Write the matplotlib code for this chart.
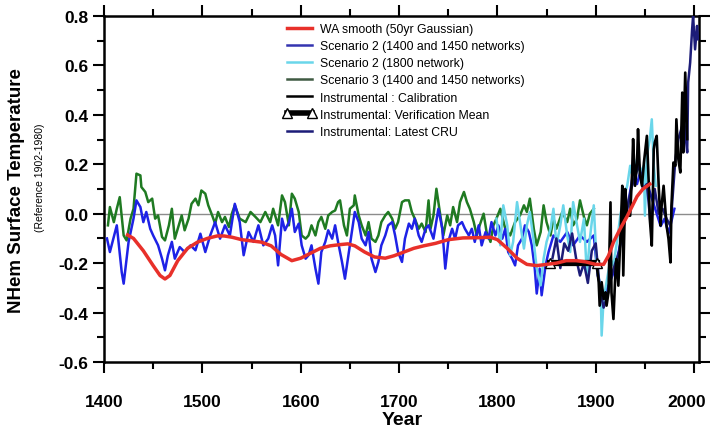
import numpy as np
import matplotlib.pyplot as plt
import matplotlib.transforms as mtransforms
from matplotlib.lines import Line2D
from matplotlib.ticker import MultipleLocator

plt.rcParams['font.family'] = ['Liberation Sans', 'DejaVu Sans']
plt.rcParams['axes.unicode_minus'] = False

# Scenario 2 (1400 and 1450 networks)
s2_years = [1403, 1406, 1413, 1418, 1420, 1425, 1430, 1433, 1437, 1440, 1443, 1447, 1450, 1455,
            1459, 1462, 1465, 1469, 1472, 1477, 1482, 1488, 1493, 1498, 1503, 1508, 1513, 1518,
            1523, 1528, 1533, 1538, 1542, 1547, 1552, 1557, 1562, 1567, 1571, 1574, 1577, 1581,
            1584, 1588, 1591, 1594, 1598, 1601, 1605, 1608, 1611, 1615, 1618, 1621, 1625, 1628,
            1632, 1635, 1638, 1642, 1645, 1649, 1652, 1655, 1659, 1662, 1666, 1669, 1672, 1676,
            1679, 1682, 1686, 1689, 1693, 1696, 1699, 1703, 1706, 1710, 1713, 1716, 1720, 1723,
            1727, 1730, 1735, 1740, 1744, 1747, 1750, 1754, 1757, 1760, 1764, 1767, 1771, 1774,
            1777, 1781, 1784, 1788, 1791, 1794, 1798, 1801, 1805, 1808, 1811, 1815, 1818, 1821,
            1825, 1828, 1832, 1835, 1838, 1840, 1843, 1845, 1849, 1852, 1857, 1864, 1871, 1877,
            1884, 1891, 1898, 1902, 1908, 1914, 1920, 1926, 1932, 1938, 1942, 1946, 1950, 1954,
            1958, 1962, 1966, 1970, 1974, 1980]
s2_vals = [-0.10, -0.155, -0.047, -0.236, -0.283, -0.114, -0.02, 0.054, 0.027, -0.034, 0.007, -0.061,
           -0.088, -0.128, -0.182, -0.229, -0.168, -0.114, -0.182, -0.135, -0.155, -0.128, -0.148,
           -0.081, -0.155, -0.088, -0.034, -0.101, -0.047, -0.088, 0.040, -0.034, -0.168, -0.074,
           -0.114, -0.047, -0.128, -0.101, -0.047, -0.088, -0.209, -0.02, -0.067, -0.034, 0.02,
           -0.074, -0.04, -0.128, -0.182, -0.168, -0.128, -0.222, -0.283, -0.155, -0.114, -0.067,
           -0.101, -0.047, -0.114, -0.195, -0.263, -0.155, -0.074, 0.007, -0.034, -0.101, -0.128,
           -0.074, -0.182, -0.236, -0.195, -0.128, -0.088, -0.047, -0.034, -0.088, -0.155, -0.195,
           -0.101, -0.04, -0.061, -0.02, -0.088, -0.114, -0.061, -0.047, -0.101, 0.02, -0.061,
           -0.222, -0.114, -0.061, -0.101, -0.047, -0.034, -0.061, -0.088, -0.061, -0.114, -0.047,
           -0.128, -0.074, -0.101, -0.034, -0.088, -0.047, -0.101, -0.061, -0.155, -0.182, -0.209,
           -0.128, -0.101, -0.047, -0.074, -0.128, -0.222, -0.323, -0.222, -0.33, -0.209, -0.155,
           -0.088, -0.114, -0.074, -0.128, -0.088, -0.114, -0.088, -0.25, -0.33, -0.28, -0.22,
           -0.10, 0.02, 0.16, 0.12, 0.18, 0.14, 0.10, 0.05, 0.0, -0.05, -0.02, -0.08, 0.02]

# Scenario 3 (1400 and 1450 networks)
s3_years = [1404, 1406, 1410, 1413, 1416, 1420, 1423, 1427, 1430, 1433, 1437, 1438, 1442, 1445,
            1449, 1452, 1455, 1459, 1462, 1466, 1469, 1472, 1476, 1479, 1482, 1486, 1489, 1493,
            1496, 1499, 1503, 1506, 1510, 1513, 1516, 1520, 1523, 1527, 1530, 1533, 1538, 1544,
            1549, 1554, 1559, 1564, 1569, 1572, 1577, 1581, 1584, 1588, 1591, 1594, 1598, 1601,
            1605, 1608, 1611, 1615, 1618, 1621, 1625, 1628, 1632, 1635, 1638, 1640, 1644, 1647,
            1650, 1654, 1655, 1659, 1662, 1666, 1669, 1672, 1676, 1679, 1682, 1686, 1689, 1693,
            1696, 1699, 1703, 1706, 1710, 1713, 1716, 1720, 1723, 1727, 1730, 1732, 1735, 1738,
            1742, 1745, 1749, 1752, 1755, 1759, 1762, 1766, 1769, 1772, 1776, 1779, 1782, 1786,
            1789, 1793, 1796, 1799, 1803, 1808, 1813, 1818, 1823, 1827, 1830, 1833, 1837, 1840,
            1844, 1847, 1850, 1854, 1857, 1860, 1866, 1871, 1874, 1877, 1881, 1884, 1888, 1891,
            1894, 1898]
s3_vals = [-0.047, 0.027, -0.034, 0.02, 0.067, -0.088, -0.108, -0.02, 0.02, 0.162, 0.155, 0.108,
           0.088, 0.047, 0.061, -0.02, -0.007, -0.094, -0.108, -0.047, 0.02, -0.101, -0.047,
           -0.007, -0.067, -0.02, 0.04, 0.061, 0.034, 0.094, 0.081, 0.034, -0.007, -0.04, 0.007,
           -0.034, -0.013, -0.054, 0.0, 0.034, -0.02, -0.034, 0.007, -0.013, -0.034, 0.007,
           -0.034, 0.02, -0.047, 0.074, 0.047, -0.047, 0.081, 0.061, 0.007, -0.088, -0.101,
           -0.088, -0.047, -0.088, -0.034, -0.013, -0.061, -0.007, 0.007, 0.013, 0.047, 0.054,
           -0.047, -0.088, 0.02, 0.034, 0.074, -0.007, -0.047, -0.088, -0.034, -0.101, -0.114,
           -0.088, -0.034, -0.007, 0.007, -0.02, -0.061, -0.034, 0.047, 0.054, 0.054, 0.007,
           -0.02, -0.061, -0.04, -0.074, 0.054, -0.061, -0.007, 0.101, -0.007, -0.088, -0.007,
           -0.047, 0.027, -0.034, 0.047, 0.088, 0.047, 0.02, -0.034, -0.088, -0.047, 0.0, -0.074,
           -0.114, -0.047, -0.02, 0.02, -0.061, -0.088, -0.034, -0.007, 0.034, 0.007, 0.061,
           -0.061, -0.128, -0.074, 0.034, -0.034, -0.088, -0.02, -0.061, 0.007, -0.034, 0.02,
           -0.047, -0.02, 0.054, -0.013, -0.047, 0.0, 0.02]

# Scenario 2 (1800 network)
s2b_years = [1799, 1803, 1806, 1810, 1813, 1816, 1820, 1823, 1827, 1830, 1833, 1837, 1840, 1844,
             1847, 1850, 1854, 1857, 1860, 1864, 1867, 1871, 1874, 1877, 1881, 1884, 1888, 1891,
             1894, 1898, 1901, 1905, 1906, 1908, 1911, 1915, 1918, 1922, 1925, 1928, 1932, 1935,
             1938, 1942, 1945, 1949, 1950, 1952, 1955, 1957, 1959, 1961]
s2b_vals = [-0.02, -0.128, 0.034, -0.047, -0.168, -0.114, 0.047, -0.034, -0.141, -0.047, 0.007,
            -0.114, -0.222, -0.29, -0.182, -0.114, -0.061, 0.02, -0.128, -0.047, 0.034, -0.088,
            -0.155, 0.047, -0.047, -0.114, -0.02, -0.249, -0.101, 0.034, -0.21, -0.304, -0.493,
            -0.345, -0.277, -0.183, -0.21, -0.102, -0.008, 0.059, 0.113, 0.194, 0.14, 0.221,
            0.167, 0.194, -0.008, 0.234, 0.302, 0.382, 0.194, 0.113]

# Instrumental: Latest CRU
cru_years = [1856, 1860, 1864, 1868, 1872, 1876, 1880, 1884, 1888, 1892, 1896, 1900, 1904, 1908,
             1912, 1916, 1920, 1924, 1928, 1932, 1936, 1940, 1944, 1948, 1952, 1956, 1960, 1964,
             1968, 1972, 1976, 1981, 1984, 1988, 1989, 1991, 1993, 1994, 1996, 1998, 1999, 2001,
             2003, 2004]
cru_vals = [-0.18, -0.10, -0.22, -0.12, -0.15, -0.08, -0.18, -0.25, -0.20, -0.28, -0.15, -0.12,
            -0.30, -0.38, -0.33, -0.25, -0.20, -0.15, -0.05, 0.02, 0.10, 0.15, 0.20, 0.10, 0.12,
            -0.05, 0.10, 0.0, 0.02, -0.02, -0.05, 0.221, 0.302, 0.356, 0.423, 0.329, 0.248,
            0.531, 0.611, 0.746, 0.80, 0.665, 0.76, 0.706]

# Instrumental: Calibration
cal_years = [1901, 1903, 1904, 1906, 1908, 1910, 1911, 1913, 1915, 1916, 1918, 1920, 1921, 1923,
             1925, 1927, 1928, 1930, 1932, 1935, 1937, 1938, 1940, 1942, 1943, 1945, 1947, 1949,
             1952, 1954, 1955, 1957, 1959, 1960, 1962, 1964, 1966, 1967, 1969, 1971, 1972, 1974,
             1976, 1977, 1979, 1981, 1982, 1984, 1986, 1988, 1989, 1991, 1993]
cal_vals = [-0.21, -0.277, -0.372, -0.277, -0.345, -0.318, -0.372, -0.318, 0.046, -0.318, -0.426,
            -0.237, -0.183, -0.291, -0.102, 0.113, -0.25, 0.10, -0.008, -0.008, 0.167, 0.302,
            0.113, 0.207, 0.342, 0.154, 0.113, 0.207, 0.315, 0.113, -0.022, -0.129, 0.261,
            0.288, 0.315, 0.113, -0.048, 0.032, 0.113, 0.005, -0.048, -0.102, -0.197, 0.032,
            0.207, 0.194, 0.382, 0.221, 0.167, 0.49, 0.248, 0.571, 0.302]

# Instrumental: Verification Mean
ver_years = [1854, 1901]
ver_vals = [-0.20, -0.20]

# WA smooth (50yr Gaussian)
wa_years = [1424, 1430, 1440, 1450, 1457, 1462, 1467, 1475, 1485, 1495, 1505, 1515, 1522, 1530,
            1540, 1550, 1560, 1570, 1580, 1591, 1600, 1610, 1620, 1630, 1640, 1648, 1655, 1665,
            1675, 1686, 1695, 1705, 1715, 1725, 1737, 1750, 1765, 1780, 1793, 1800, 1810, 1820,
            1830, 1840, 1850, 1860, 1870, 1880, 1890, 1900, 1908, 1913, 1918, 1925, 1932, 1937,
            1942, 1948, 1955]
wa_vals = [-0.086, -0.10, -0.15, -0.21, -0.25, -0.264, -0.25, -0.19, -0.14, -0.115, -0.10, -0.09,
           -0.09, -0.095, -0.105, -0.11, -0.115, -0.13, -0.165, -0.19, -0.18, -0.16, -0.14, -0.13,
           -0.125, -0.122, -0.13, -0.155, -0.175, -0.18, -0.17, -0.155, -0.14, -0.13, -0.12,
           -0.105, -0.098, -0.097, -0.095, -0.105, -0.14, -0.18, -0.205, -0.21, -0.205, -0.20,
           -0.19, -0.19, -0.195, -0.205, -0.205, -0.17, -0.115, -0.06, -0.01, 0.03, 0.07, 0.10,
           0.12]

red = '#e8302a'
blue = '#1e22e6'
cyan = '#6ad6ea'
green = '#1f7a22'
navy = '#1c1c78'

fig = plt.figure(figsize=(7.11, 4.35), dpi=100)
ax = fig.add_axes([104 / 711, 1 - 363 / 435, 595 / 711, 346 / 435])

ax.axhline(0, color='#8c8c8c', lw=1.0, zorder=1)
ax.plot(s3_years, s3_vals, color=green, lw=1.8, zorder=2)
ax.plot(s2_years, s2_vals, color=blue, lw=1.8, zorder=3)
ax.plot(s2b_years, s2b_vals, color=cyan, lw=1.8, zorder=4)
ax.plot(cru_years, cru_vals, color=navy, lw=1.8, zorder=5)
ax.plot(cal_years, cal_vals, color='black', lw=1.9, zorder=6)
ax.plot(ver_years, ver_vals, color='black', lw=4.5, marker='^', ms=7,
        mfc='white', mec='black', mew=1.0, zorder=7)
ax.plot(wa_years, wa_vals, color=red, lw=2.5, zorder=8)

ax.set_xlim(1400, 2005)
ax.set_ylim(-0.6, 0.8)
ax.set_xticks([1400, 1500, 1600, 1700, 1800, 1900, 2000])
ax.xaxis.set_minor_locator(MultipleLocator(50))
ax.yaxis.set_major_locator(MultipleLocator(0.2))
ax.yaxis.set_minor_locator(MultipleLocator(0.1))
ax.yaxis.set_major_formatter(plt.FuncFormatter(lambda v, p: '%.1f' % v))

for sp in ax.spines.values():
    sp.set_linewidth(1.8)
ax.tick_params(which='both', direction='out', top=True, right=True, width=1.5)
ax.tick_params(which='major', length=8)
ax.tick_params(which='minor', length=5)
ax.tick_params(axis='x', which='major', pad=15, labelsize=12.5)
ax.tick_params(axis='y', which='major', pad=3, labelsize=12.5)
for lab in ax.get_xticklabels() + ax.get_yticklabels():
    lab.set_fontweight('bold')
# nudge the last year label so it stays inside the picture
last = ax.get_xticklabels()[-1]
last.set_transform(last.get_transform() +
                   mtransforms.ScaledTranslation(-5 / 72, 0, fig.dpi_scale_trans))

fig.text(17 / 711, 1 - 191 / 435, 'NHem Surface Temperature', rotation=90,
         ha='center', va='center', fontsize=13.5, fontweight='bold')
fig.text(40 / 711, 1 - 178 / 435, '(Reference 1902-1980)', rotation=90,
         ha='center', va='center', fontsize=7.5)
fig.text(402 / 711, 1 - 421 / 435, 'Year', ha='center', va='center',
         fontsize=14, fontweight='bold')

handles = [
    Line2D([], [], color=red, lw=2.5),
    Line2D([], [], color='#3434b0', lw=1.8),
    Line2D([], [], color=cyan, lw=1.8),
    Line2D([], [], color='#3f5a42', lw=1.8),
    Line2D([], [], color='black', lw=1.8),
    Line2D([], [], color='black', lw=4, marker='^', ms=6.5, mfc='white', mec='black'),
    Line2D([], [], color=navy, lw=1.8),
]
labels = ['WA smooth (50yr Gaussian)',
          'Scenario 2 (1400 and 1450 networks)',
          'Scenario 2 (1800 network)',
          'Scenario 3 (1400 and 1450 networks)',
          'Instrumental : Calibration',
          'Instrumental: Verification Mean',
          'Instrumental: Latest CRU']
ax.legend(handles, labels, loc='upper left', bbox_to_anchor=(283 / 711, 1 - 24 / 435),
          bbox_transform=fig.transFigure, frameon=False, fontsize=8.8,
          handlelength=2.7, handletextpad=0.3, labelspacing=0.42,
          borderpad=0, borderaxespad=0, numpoints=2)

fig.savefig('out.png', dpi=100)
